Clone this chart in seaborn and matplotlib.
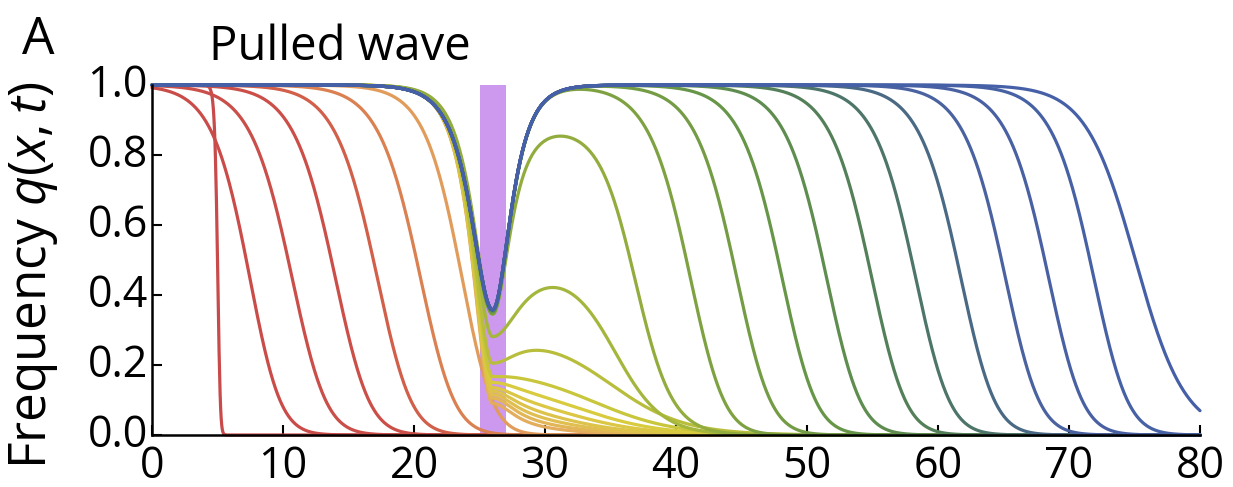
import numpy as np
import matplotlib
matplotlib.use("Agg")
import matplotlib.pyplot as plt
import matplotlib.transforms as mtransforms
import seaborn as sns
from matplotlib.colors import LinearSegmentedColormap

# ---------------- data ----------------
x_ticks = [0, 10, 20, 30, 40, 50, 60, 70, 80]
y_ticks = [0.0, 0.2, 0.4, 0.6, 0.8, 1.0]
barrier_span = [25, 27]
barrier_centre = 26

# fronts before the barrier: x where q = 0.5, front width
pre_half = [5.0, 7.2, 10.4, 13.7, 16.9, 20.2, 23.4]
pre_width = [0.13, 1.55, 1.72, 1.72, 1.72, 1.72, 1.55]

# curves held at the barrier: dip value at barrier centre, right-side amplitude,
# x of right-side half fall, fall width, rise scale
stuck_dip = [0.09, 0.105, 0.115, 0.125, 0.135, 0.15, 0.167, 0.205, 0.281, 0.345]
stuck_amp = [0.035, 0.055, 0.075, 0.095, 0.115, 0.14, 0.18, 0.29, 0.48, 0.88]
stuck_half = [29.5, 30.0, 30.5, 31.0, 32.0, 33.0, 34.0, 35.0, 35.3, 36.9]
stuck_width = [3.0, 3.0, 3.0, 3.0, 3.0, 3.0, 3.0, 2.8, 1.8, 1.4]
stuck_rise = [1.3, 1.3, 1.3, 1.3, 1.3, 1.4, 1.5, 1.7, 1.8, 1.15]

# fronts past the barrier
post_half = [40.8, 44.35, 47.8, 51.2, 54.65, 58.0, 61.45, 64.85, 68.15, 71.6, 75.07]
post_dip = [0.346, 0.349, 0.352, 0.354, 0.356, 0.357, 0.357, 0.358, 0.358, 0.358, 0.358]
post_width = [1.72, 1.72, 1.72, 1.72, 1.72, 1.72, 1.72, 1.72, 1.72, 1.72, 1.9]
post_shape = [2, 2, 2, 2, 2, 2, 2, 2, 2, 2, 1]

# ---------------- styling ----------------
sns.set_style("ticks")
plt.rcParams['font.family'] = ['Open Sans', 'DejaVu Sans']
plt.rcParams['mathtext.fontset'] = 'custom'
plt.rcParams['mathtext.rm'] = 'Open Sans'
plt.rcParams['mathtext.it'] = 'Open Sans:italic'
for k in ("text.color", "axes.labelcolor", "xtick.color", "ytick.color"):
    plt.rcParams[k] = "black"

colour_anchors = [
    (0.00, "#c94a4a"), (0.12, "#cb5048"), (0.16, "#d4684a"), (0.20, "#de9056"),
    (0.24, "#e4a860"), (0.33, "#e0be50"), (0.45, "#d8cc3c"), (0.55, "#a8b83a"),
    (0.63, "#7ea242"), (0.72, "#639449"), (0.80, "#4f7a5e"), (0.85, "#4a6a80"),
    (0.89, "#4a62a0"), (1.00, "#4660a8"),
]
cmap = LinearSegmentedColormap.from_list("wave", colour_anchors)


def front(x, half, width, shape):
    z0 = np.log(2 ** (1.0 / shape) - 1)
    z = np.clip((x - half) / width + z0, -60, 60)
    return (1 + np.exp(z)) ** (-shape)


def sech(u):
    return 1.0 / np.cosh(np.clip(u, -60, 60))


xs = np.linspace(0, 80, 2001)
curves = []
for h, w in zip(pre_half, pre_width):
    curves.append(front(xs, h, w, 2))

for d, a, h, w, r in zip(stuck_dip, stuck_amp, stuck_half, stuck_width, stuck_rise):
    left = 1 - (1 - d) * sech((xs - barrier_centre) / 1.3)
    g = a * front(xs, h, w, 1)
    right = g - (g - d) * sech((xs - barrier_centre) / r)
    curves.append(np.where(xs < barrier_centre, left, right))

for h, d, w, p in zip(post_half, post_dip, post_width, post_shape):
    left = 1 - (1 - d) * sech((xs - barrier_centre) / 1.43)
    g = front(xs, h, w, p)
    right = g - (g - d) * sech((xs - barrier_centre) / 1.2)
    curves.append(np.where(xs < barrier_centre, left, right))

fig = plt.figure(figsize=(12.33, 4.87), dpi=100)
ax = fig.add_axes([152 / 1233, 52 / 487, 1048 / 1233, 350 / 487])

ax.axvspan(barrier_span[0], barrier_span[1], ymin=0, ymax=1,
           color="#cc99ee", lw=0, zorder=1)

n = len(curves)
for i, q in enumerate(curves):
    sns.lineplot(x=xs, y=q, color=cmap(i / (n - 1)), lw=2.3, ax=ax,
                 estimator=None, sort=False, clip_on=False, zorder=2 + i * 0.001)

ax.set_xlim(0, 80)
ax.set_ylim(0, 1)
ax.set_xticks(x_ticks)
ax.set_xticklabels([str(v) for v in x_ticks])
ax.set_yticks(y_ticks)
ax.set_yticklabels([f"{v:.1f}" for v in y_ticks])
sns.despine(ax=ax)
for s in ("left", "bottom"):
    ax.spines[s].set_linewidth(1.8)
    ax.spines[s].set_color("black")
    ax.spines[s].set_zorder(3)
ax.tick_params(direction="in", length=7, width=1.5, labelsize=31, colors="black")
ax.tick_params(axis="x", pad=7)
ax.tick_params(axis="y", pad=3)

# y tick labels sit slightly above their ticks in the reference
shift = mtransforms.ScaledTranslation(0, 5 / 100, fig.dpi_scale_trans)
for lab in ax.yaxis.get_majorticklabels():
    lab.set_transform(lab.get_transform() + shift)

ax.set_ylabel(r"Frequency $q(x,t)$", fontsize=37)
ax.yaxis.set_label_coords(-0.088, 0.455)

fig.text(340 / 1233, 1 - 47 / 487, "Pulled wave", fontsize=34, ha="center", va="center")
fig.text(38 / 1233, 1 - 40 / 487, "A", fontsize=37, ha="center", va="center")

fig.savefig("out.png", dpi=100)
